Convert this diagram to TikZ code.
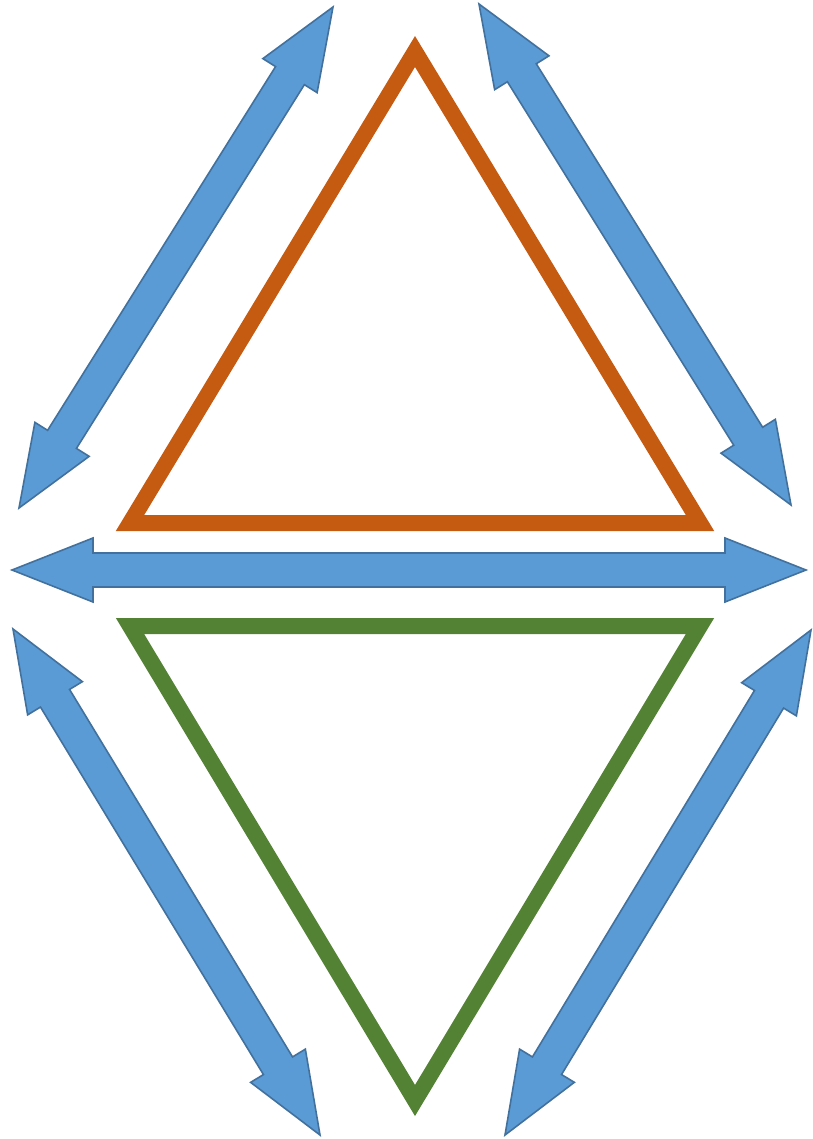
\documentclass[tikz,border=0pt]{standalone}
\usetikzlibrary{calc}

\definecolor{arrowblue}{HTML}{5B9BD5}
\definecolor{arrowedge}{HTML}{41719C}
\definecolor{burnt}{HTML}{C55A11}
\definecolor{leaf}{HTML}{548235}

\begin{document}
\begin{tikzpicture}[
    x=1pt, y=-1pt,
    line join=miter,
    triangle/.style={line width=16pt, line join=miter},
    twoway/.style={fill=arrowblue, draw=arrowedge, line width=1.6pt,
    line join=miter}
  ]

% common block arrow geometry so all arrows have the same heads
\def\headlen{81pt}
\def\headhalf{32pt}
\def\shafthalf{17pt}

% double headed block arrow between two named points
\def\blockarrow#1#2{%
  \coordinate (#1h) at ($(#1)!\headlen!(#2)$);
  \coordinate (#2h) at ($(#2)!\headlen!(#1)$);
  \draw[twoway]
    (#1)
    -- ($(#1h)!\headhalf!90:(#2)$)
    -- ($(#1h)!\shafthalf!90:(#2)$)
    -- ($(#2h)!\shafthalf!-90:(#1)$)
    -- ($(#2h)!\headhalf!-90:(#1)$)
    -- (#2)
    -- ($(#2h)!\headhalf!90:(#1)$)
    -- ($(#2h)!\shafthalf!90:(#1)$)
    -- ($(#1h)!\shafthalf!-90:(#2)$)
    -- ($(#1h)!\headhalf!-90:(#2)$)
    -- cycle;
}

\useasboundingbox[fill=white] (0,0) rectangle (812,1139);

% ============================================================
% TRIANGLES: orange pointing up, green pointing down
% ============================================================
\coordinate (upTop)   at (415,51.5);
\coordinate (upLeft)  at (130,523);
\coordinate (upRight) at (700,523);
\draw[triangle, burnt] (upTop) -- (upLeft) -- (upRight) -- cycle;

\coordinate (downLeft)   at (130,626);
\coordinate (downRight)  at (700,626);
\coordinate (downBottom) at (415,1100.5);
\draw[triangle, leaf] (downLeft) -- (downRight) -- (downBottom) -- cycle;

% ============================================================
% ARROWS round the two triangles
% ============================================================
\coordinate (tlA) at (333,7);
\coordinate (tlB) at (19,508);
\blockarrow{tlA}{tlB}

\coordinate (trA) at (479,4);
\coordinate (trB) at (791,505);
\blockarrow{trA}{trB}

% middle arrow between the triangles
\coordinate (midA) at (12,570);
\coordinate (midB) at (806,570);
\blockarrow{midA}{midB}

\coordinate (blA) at (13,629);
\coordinate (blB) at (320,1135);
\blockarrow{blA}{blB}

\coordinate (brA) at (811,630);
\coordinate (brB) at (505,1135);
\blockarrow{brA}{brB}

\end{tikzpicture}
\end{document}
